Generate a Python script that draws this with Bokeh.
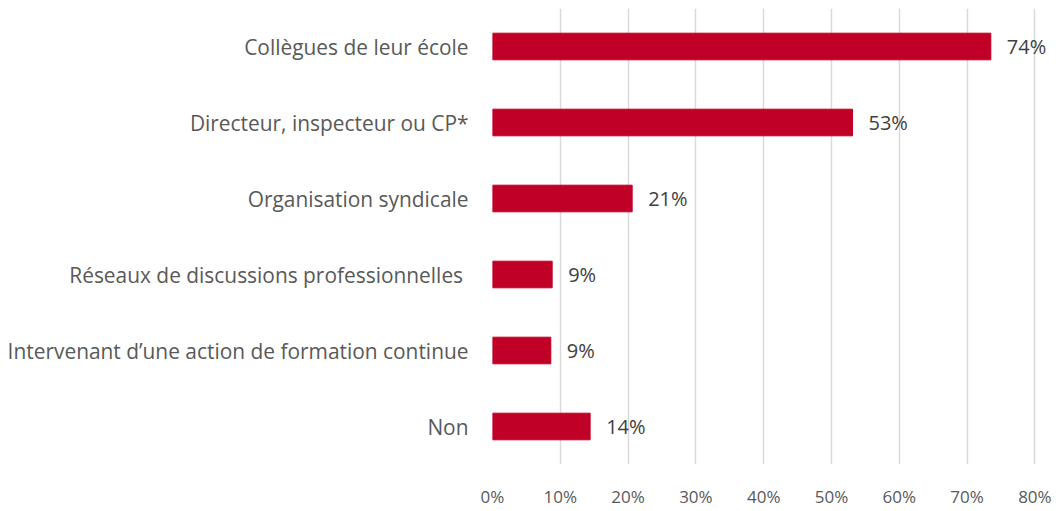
from bokeh.plotting import figure
from bokeh.models import ColumnDataSource, FactorRange, FixedTicker, CustomJSTickFormatter, LabelSet
from bokeh.embed import file_html
from bokeh.resources import INLINE
from bokeh.core.properties import value

categories = [
    "Collègues de leur école",
    "Directeur, inspecteur ou CP*",
    "Organisation syndicale",
    "Réseaux de discussions professionnelles ",
    "Intervenant d\u2019une action de formation continue",
    "Non",
]
values = [73.5, 53.1, 20.6, 8.8, 8.6, 14.4]
value_labels = ["74%", "53%", "21%", "9%", "9%", "14%"]
x_ticks = [0, 10, 20, 30, 40, 50, 60, 70, 80]

FONT = "Open Sans"
BAR = "#C00027"

src = ColumnDataSource(dict(cat=categories, val=values, lab=value_labels))

p = figure(
    width=1060, height=510,
    y_range=FactorRange(factors=list(reversed(categories)), range_padding=0),
    x_range=(0, 82.6),
    output_backend="svg", toolbar_location=None,
    min_border_left=492, min_border_right=8, min_border_top=8, min_border_bottom=42,
)
p.outline_line_color = None

p.hbar(y="cat", right="val", left=0, height=0.35, source=src,
       fill_color=BAR, line_color=BAR)

labels = LabelSet(x="val", y="cat", text="lab", source=src, x_offset=16,
                  text_baseline="middle", text_font=value(FONT),
                  text_font_size="20px", text_color="#404040")
p.add_layout(labels)

p.xaxis.ticker = FixedTicker(ticks=x_ticks)
p.xaxis.formatter = CustomJSTickFormatter(code="return tick + '%';")
p.xaxis.axis_line_color = None
p.xaxis.major_tick_line_color = None
p.xaxis.minor_tick_line_color = None
p.xaxis.major_tick_out = 0
p.xaxis.major_label_standoff = 20
p.xaxis.major_label_text_font = FONT
p.xaxis.major_label_text_font_size = "17px"
p.xaxis.major_label_text_color = "#595959"

p.yaxis.axis_line_color = None
p.yaxis.major_tick_line_color = None
p.yaxis.minor_tick_line_color = None
p.yaxis.major_tick_out = 0
p.yaxis.major_label_standoff = 24
p.yaxis.major_label_text_font = FONT
p.yaxis.major_label_text_font_size = "20.9px"
p.yaxis.major_label_text_color = "#595959"

p.xgrid.ticker = FixedTicker(ticks=x_ticks)
p.xgrid.grid_line_color = "#D9D9D9"
p.xgrid.grid_line_width = 1.5
p.ygrid.grid_line_color = None

open("out.html", "w").write(file_html(p, INLINE))
